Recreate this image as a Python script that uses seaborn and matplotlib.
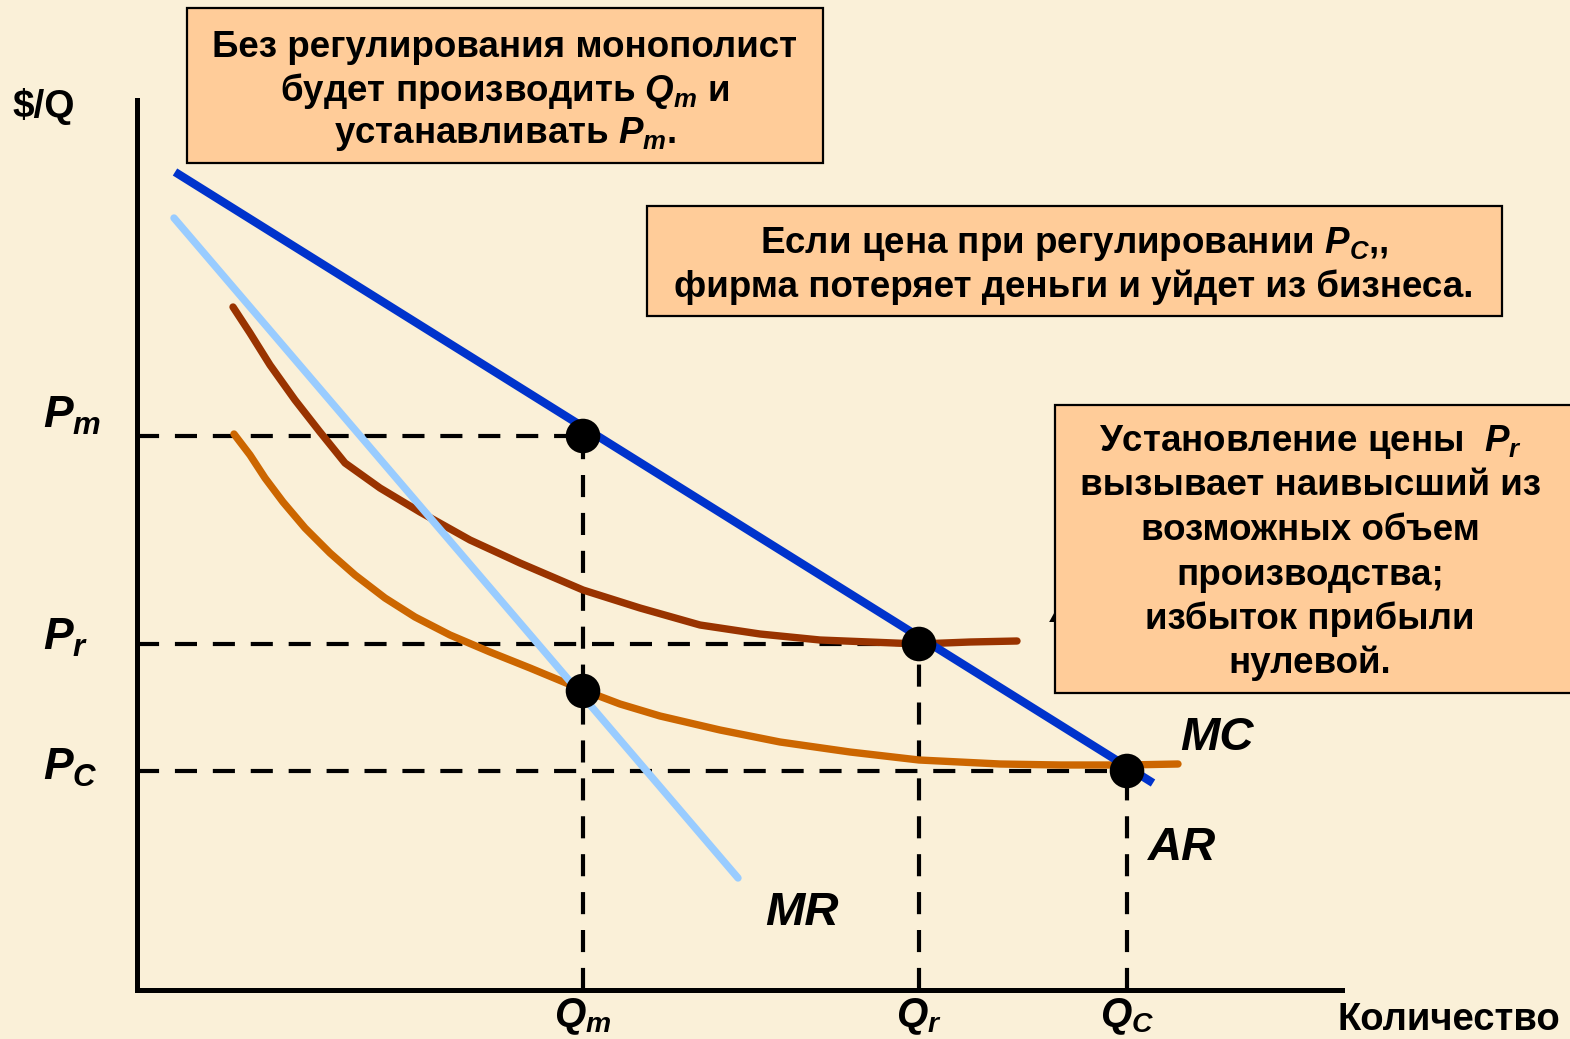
import matplotlib
matplotlib.use("Agg")
import matplotlib.pyplot as plt
from matplotlib import font_manager
from matplotlib.patches import Rectangle
import pandas as pd
import seaborn as sns

# equilibrium points (quantity, price)
q_labels = ["$Q_m$", "$Q_r$", "$Q_C$"]
q_values = [44.6, 78.2, 99.0]
p_labels = ["$P_m$", "$P_r$", "$P_C$"]
p_values = [55.4, 34.6, 21.9]

# curves
ar_q = [3.8, 101.6]
ar_p = [81.8, 20.7]
mr_q = [3.7, 60.1]
mr_p = [77.2, 11.2]
ac_q = [9.6, 11.3, 13.3, 15.8, 18.3, 20.8, 24.3, 28.3, 33.3, 38.3, 44.6, 50.3,
        56.3, 62.3, 68.3, 78.2, 83.3, 88.0]
ac_p = [68.3, 65.7, 62.5, 59.0, 55.8, 52.7, 50.2, 47.8, 45.0, 42.7, 40.0, 38.2,
        36.5, 35.6, 35.0, 34.6, 34.8, 34.9]
mc_q = [9.7, 11.3, 12.8, 14.6, 16.8, 19.3, 21.8, 24.8, 27.8, 31.3, 35.3, 39.3,
        44.6, 48.3, 52.3, 58.3, 64.3, 71.3, 78.2, 86.3, 92.3, 99.0, 104.1]
mc_p = [55.6, 53.5, 51.2, 48.8, 46.2, 43.7, 41.5, 39.2, 37.3, 35.5, 33.8, 32.2,
        30.0, 28.6, 27.4, 26.0, 24.8, 23.8, 23.0, 22.6, 22.5, 22.5, 22.6]

dot_q = [44.6, 78.2, 99.0, 44.6]
dot_p = [55.4, 34.6, 21.9, 29.9]

box1_lines = ["Без регулирования монополист",
              "будет производить $Q_m$ и",
              "устанавливать $P_m$."]
box2_lines = ["Если цена при регулировании $P_C$,,",
              "фирма потеряет деньги и уйдет из бизнеса."]
box3_lines = ["Установление цены  $P_r$",
              "вызывает наивысший из",
              "возможных объем",
              "производства;",
              "избыток прибыли",
              "нулевой."]

BG = "#FAF0D8"
BOX = "#FFCC99"

sns.set_style("white")
installed = {f.name for f in font_manager.fontManager.ttflist}
narrow = "Liberation Sans Narrow" if "Liberation Sans Narrow" in installed else "Liberation Sans"
narrow_size = 31 if narrow == "Liberation Sans Narrow" else 26.5
plt.rcParams["font.family"] = ["Liberation Sans", "DejaVu Sans"]
plt.rcParams["font.weight"] = "bold"
plt.rcParams["text.color"] = "black"
plt.rcParams["mathtext.fontset"] = "custom"
plt.rcParams["mathtext.it"] = "Liberation Sans:italic:bold"
plt.rcParams["mathtext.rm"] = "Liberation Sans:bold"
plt.rcParams["mathtext.bf"] = "Liberation Sans:bold"

W, H = 1570, 1039
fig = plt.figure(figsize=(W / 100, H / 100), dpi=100, facecolor=BG)

# main axes: origin at pixel (137, 990), 10 px per unit
ax = fig.add_axes([137 / W, (H - 990) / H, (1342 - 137) / W, (990 - 100) / H])
ax.set_facecolor("none")
ax.set_xlim(0, 120.5)
ax.set_ylim(0, 89)
for s in ["top", "right"]:
    ax.spines[s].set_visible(False)
for s in ["left", "bottom"]:
    ax.spines[s].set_linewidth(3.6)
    ax.spines[s].set_color("black")
ax.set_xticks([])
ax.set_yticks([])

# dashed guides
dash = (0, (5.3, 3.8))
ax.hlines(p_values, 0, q_values, colors="black", lw=3, linestyles=[dash], zorder=1)
ax.vlines(q_values, 0, p_values, colors="black", lw=3, linestyles=[dash], zorder=1)

curves = pd.concat([
    pd.DataFrame({"q": mc_q, "p": mc_p, "curve": "MC"}),
    pd.DataFrame({"q": ac_q, "p": ac_p, "curve": "AC"}),
    pd.DataFrame({"q": mr_q, "p": mr_p, "curve": "MR"}),
])
palette = {"MC": "#CC6600", "AC": "#993300", "MR": "#99CCFF"}
sns.lineplot(data=curves, x="q", y="p", hue="curve", palette=palette, sort=False,
             estimator=None, lw=5.3, legend=False, ax=ax, zorder=2,
             solid_capstyle="round", solid_joinstyle="round")
sns.lineplot(x=ar_q, y=ar_p, color="#0033CC", lw=6, ax=ax, zorder=2, solid_capstyle="butt")
sns.scatterplot(x=dot_q, y=dot_p, color="black", s=620, edgecolor="none", ax=ax, zorder=3)
ax.set_xlabel("")
ax.set_ylabel("")

# axis labels for the equilibrium levels
p_dy = [8, -6, -9]
for lab, p, dy in zip(p_labels, p_values, p_dy):
    ax.annotate(lab, xy=(0, p), xytext=(-94 * 0.72, dy * 0.72), textcoords="offset points",
                ha="left", va="baseline", fontsize=32, annotation_clip=False)
for lab, q in zip(q_labels, q_values):
    ax.annotate(lab, xy=(q, 0), xytext=(0, -36 * 0.72), textcoords="offset points",
                ha="center", va="baseline", fontsize=29, annotation_clip=False)

# overlay in pixel coordinates for boxes and free labels
ov = fig.add_axes([0, 0, 1, 1], zorder=5)
ov.set_xlim(0, W)
ov.set_ylim(H, 0)
ov.axis("off")
ov.patch.set_visible(False)

ov.text(12, 117, "\\$/Q", fontsize=28, ha="left", va="baseline")
ov.text(1560, 1030, "Количество", fontsize=narrow_size + 1, family=narrow, ha="right", va="baseline")
ov.text(765, 925, "MR", fontsize=34, style="italic", ha="left", va="baseline")
ov.text(1180, 750, "MC", fontsize=34, style="italic", ha="left", va="baseline")
ov.text(1148, 860, "AR", fontsize=34, style="italic", ha="left", va="baseline")
ov.text(1050, 622, "AC", fontsize=30, style="italic", ha="left", va="baseline", zorder=1)


def text_box(x0, y0, x1, y1, lines, baselines, cx, family, size):
    ov.add_patch(Rectangle((x0, y0), x1 - x0, y1 - y0, facecolor=BOX, edgecolor="black",
                           lw=1.6, zorder=2, clip_on=False))
    for line, yb in zip(lines, baselines):
        ov.text(cx, yb, line, ha="center", va="baseline", fontsize=size, family=family, zorder=3)


text_box(187, 8, 823, 163, box1_lines, [57, 101, 143], 505, narrow, narrow_size)
text_box(647, 206, 1502, 316, box2_lines, [253, 297], 1074, narrow, narrow_size)
text_box(1055, 405, 1585, 693, box3_lines, [451, 495, 540, 585, 629, 673], 1310,
         "Liberation Sans", 26.5)

fig.savefig("out.png", dpi=100, facecolor=BG)
